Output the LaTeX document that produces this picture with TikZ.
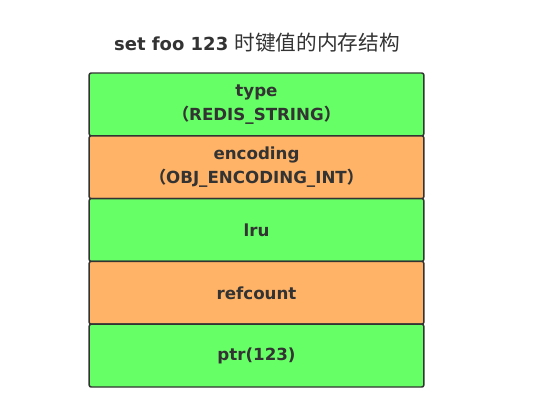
\documentclass[tikz,border=0pt]{standalone}
\usepackage{fontspec}
\setmainfont{DejaVu Sans}
\newfontfamily\cjk{Noto Sans CJK SC}
\usetikzlibrary{positioning}
\definecolor{fieldgreen}{HTML}{66FF66}
\definecolor{fieldorange}{HTML}{FFB366}
\definecolor{edgegray}{HTML}{333333}
\tikzset{
  field/.style={draw=edgegray, line width=1.1pt, rounded corners=1.5pt,
    minimum width=251pt, minimum height=47.1pt, align=center, outer sep=0pt,
    text=edgegray, font=\fontsize{12.5}{18}\selectfont\bfseries, inner sep=0pt},
  greenfield/.style={field, fill=fieldgreen},
  orangefield/.style={field, fill=fieldorange}
}
\begin{document}
\begin{tikzpicture}[x=0.75pt, y=-0.75pt]
\useasboundingbox (0,0) rectangle (533,411);

% title
\node (title) [text=edgegray] at (257,43)
  {\fontsize{13.5}{16}\selectfont\bfseries set foo 123 \cjk\mdseries\fontsize{15.5}{16}\selectfont 时键值的内存结构};

% fields
\node (typebox) [greenfield, anchor=north] at (256.5,73) {type\\\cjk（\normalfont\bfseries REDIS\_STRING\cjk）};
\node (encbox) [orangefield, below=0pt of typebox] {encoding\\\cjk（\normalfont\bfseries OBJ\_ENCODING\_INT\cjk）};
\node (lrubox) [greenfield, below=0pt of encbox] {lru};
\node (refbox) [orangefield, below=0pt of lrubox] {refcount};
\node (ptrbox) [greenfield, below=0pt of refbox] {ptr(123)};

\end{tikzpicture}
\end{document}
